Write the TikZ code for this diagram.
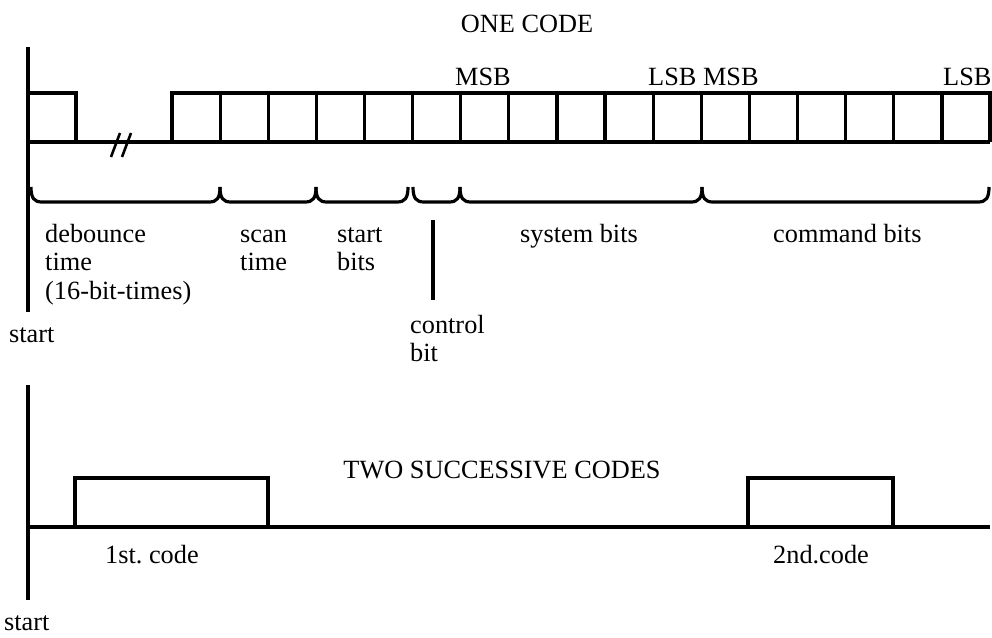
\documentclass[tikz,border=0pt]{standalone}
\usepackage{fontspec}
\setmainfont{Liberation Serif}
\frenchspacing
\newcommand\segbrace[2]{\draw[wire, line join=round] (#1,187) .. controls (#1,198) and ({#1+3},202) .. ({#1+11},202) -- ({#2-11},202) .. controls ({#2-3},202) and (#2,198) .. (#2,187);}
\begin{document}
\begin{tikzpicture}[x=1pt,y=-1pt,
  wire/.style={line width=3.2pt},
  lbl/.style={inner sep=0pt, anchor=base west, font=\fontsize{26.3}{28.5}\selectfont, align=left},
  ]
\useasboundingbox (0,0) rectangle (992,637);
% ---------- ONE CODE ----------
\draw[wire] (28,47) -- (28,312);
\draw[wire] (28,93) -- (76,93) -- (76,142);
\draw[wire] (28,142) -- (990,142);
\draw[wire] (172,142) -- (172,93) -- (990,93) -- (990,142);
\foreach \i in {1,...,16} \draw[wire] ({172+48.12*\i},93) -- ({172+48.12*\i},142);
\draw[line width=2.6pt] (111,157) -- (120,133) (122,157) -- (131,133);
% braces
\segbrace{31}{220}
\segbrace{220}{316}
\segbrace{316}{408}
\segbrace{413}{460}
\segbrace{460}{702}
\segbrace{702}{989}
\draw[line width=3.6pt] (433,220) -- (433,300);
% labels (multi-line nodes: base = last line)
\node[lbl, anchor=base] (one) at (527,32) {ONE CODE};
\node[lbl] (msb1) at (455,85) {MSB};
\node[lbl] (lsbmsb) at (648,85) {LSB MSB};
\node[lbl] (lsb2) at (943,85) {LSB};
\node[lbl] (deb) at (45,299) {debounce\\time\\(16-bit-times)};
\node[lbl] (scan) at (240,270.5) {scan\\time};
\node[lbl] (stb) at (337,270.5) {start\\bits};
\node[lbl] (sys) at (520,242) {system bits};
\node[lbl] (cmd) at (773,242) {command bits};
\node[lbl] (ctl) at (410,361.5) {control\\bit};
\node[lbl] (start1) at (9,342) {start};
% ---------- TWO SUCCESSIVE CODES ----------
\draw[wire] (28,385) -- (28,600);
\draw[wire] (28,527) -- (990,527);
\draw[wire] (75,527) -- (75,478) -- (268,478) -- (268,527);
\draw[wire] (748,527) -- (748,478) -- (893,478) -- (893,527);
\node[lbl, anchor=base] (two) at (502,478) {TWO SUCCESSIVE CODES};
\node[lbl] (c1) at (105,563) {1st. code};
\node[lbl] (c2) at (773,563) {2nd.code};
\node[lbl] (start2) at (4,630) {start};
\end{tikzpicture}
\end{document}
